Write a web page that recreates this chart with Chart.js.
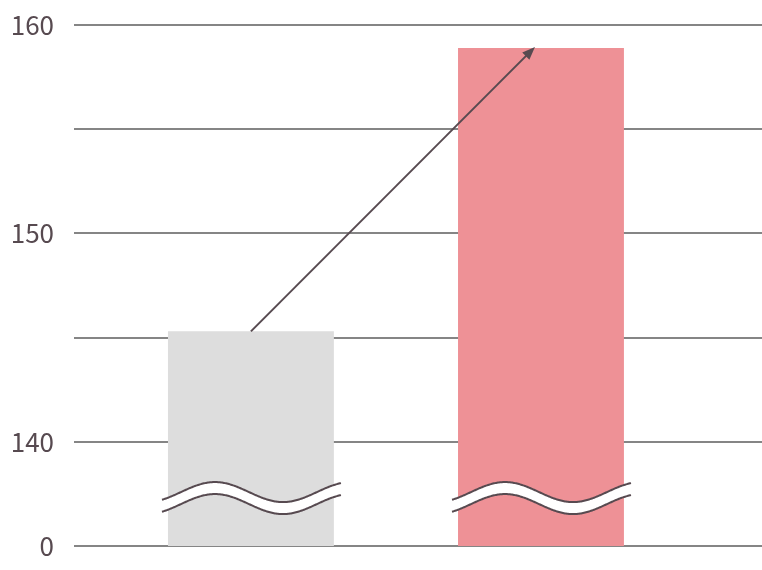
<!DOCTYPE html>
<html>
<head>
<meta charset="utf-8">
<script src="https://cdn.jsdelivr.net/npm/chart.js@4"></script>
<style>
  body { margin: 0; background: #fff; }
  #wrap { width: 762px; height: 570px; }
</style>
</head>
<body>
<div id="wrap"><canvas id="bars"></canvas></div>
<script>
// dati del grafico
const positions = [1, 2]
const values = [145.3, 158.9]
const barColors = ['#dddddd', '#ee9196']
const yTicks = [135, 140, 145, 150, 155, 160]
const yLabels = { 135: '0', 140: '140', 150: '150', 160: '160' }
const breakValue = 137.3

const ink = '#574a50'

// onda di interruzione + freccia
const extrasPlugin = {
  id: 'extras',
  afterDatasetsDraw: (chart) => {
    const ctx = chart.ctx
    const y = chart.scales.y
    const meta = chart.getDatasetMeta(0)
    const yc = y.getPixelForValue(breakValue)

    meta.data.forEach(bar => {
      const x0 = bar.x - bar.width / 2 - 6
      const x1 = bar.x + bar.width / 2 + 8
      const period = 136
      const peakX = bar.x - bar.width / 2 + 47
      const wave = (x, off) => yc - 6 + off - 10 * Math.cos(2 * Math.PI * (x - peakX) / period)
      ctx.save()
      // riempimento bianco
      ctx.beginPath()
      for (let x = x0; x <= x1; x += 1) ctx.lineTo(x, wave(x, 0))
      for (let x = x1; x >= x0; x -= 1) ctx.lineTo(x, wave(x, 12))
      ctx.closePath()
      ctx.fillStyle = '#ffffff'
      ctx.fill()
      // contorni
      ctx.strokeStyle = ink
      ctx.lineWidth = 2
      ;[0, 12].forEach(off => {
        ctx.beginPath()
        for (let x = x0; x <= x1; x += 1) ctx.lineTo(x, wave(x, off))
        ctx.stroke()
      })
      ctx.restore()
    })

    // freccia
    const a = meta.data[0], b = meta.data[1]
    const sx = a.x, sy = a.y
    const ex = b.x - 6, ey = b.y - 1
    const ang = Math.atan2(ey - sy, ex - sx)
    ctx.save()
    ctx.strokeStyle = ink
    ctx.fillStyle = ink
    ctx.lineWidth = 2
    ctx.beginPath()
    ctx.moveTo(sx, sy)
    ctx.lineTo(ex - 8 * Math.cos(ang), ey - 8 * Math.sin(ang))
    ctx.stroke()
    ctx.beginPath()
    ctx.moveTo(ex, ey)
    ctx.lineTo(ex - 13 * Math.cos(ang) + 5 * Math.sin(ang), ey - 13 * Math.sin(ang) - 5 * Math.cos(ang))
    ctx.lineTo(ex - 13 * Math.cos(ang) - 5 * Math.sin(ang), ey - 13 * Math.sin(ang) + 5 * Math.cos(ang))
    ctx.closePath()
    ctx.fill()
    ctx.restore()
  }
}

const myChart = new Chart(document.getElementById('bars'), {
  type: 'bar',
  data: {
    datasets: [{
      data: positions.map((p, i) => ({ x: p, y: values[i] })),
      backgroundColor: barColors,
      borderWidth: 0,
      barPercentage: 0.572,
      categoryPercentage: 1
    }]
  },
  options: {
    responsive: true,
    maintainAspectRatio: false,
    animation: false,
    events: [],
    layout: { padding: { top: 25, bottom: 24, right: 0, left: 0 } },
    plugins: {
      legend: { display: false },
      tooltip: { enabled: false }
    },
    scales: {
      x: {
        type: 'linear',
        display: false,
        offset: false,
        min: 0.39,
        max: 2.762,
        afterBuildTicks: (axis) => { axis.ticks = positions.map(v => ({ value: v })) }
      },
      y: {
        min: 135,
        max: 160,
        afterBuildTicks: (axis) => { axis.ticks = yTicks.map(v => ({ value: v })) },
        afterFit: (axis) => {
          axis.width = 74
          axis.paddingTop = 0
          axis.paddingBottom = 0
        },
        border: { display: false },
        grid: { color: '#858585', lineWidth: 2, drawTicks: false },
        ticks: {
          padding: 20,
          color: ink,
          font: { family: '"Noto Sans CJK JP", "Noto Sans", sans-serif', size: 26, weight: 400 },
          callback: (v) => yLabels[v] || ''
        }
      }
    }
  },
  plugins: [extrasPlugin]
})
</script>
</body>
</html>
